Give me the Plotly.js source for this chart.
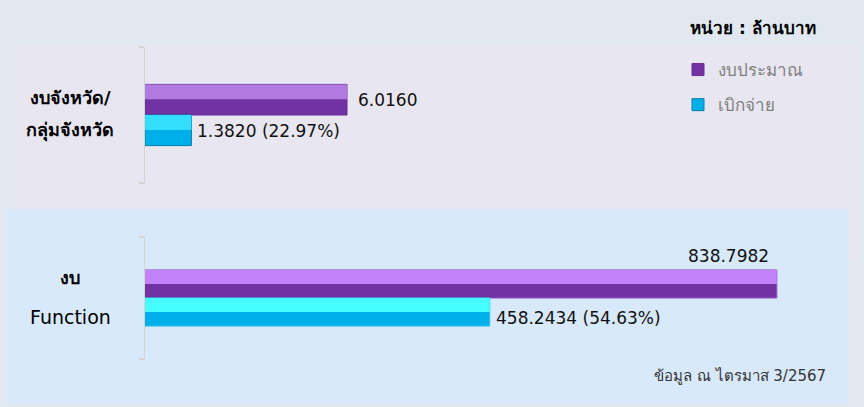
<!DOCTYPE html>
<html>
<head>
<meta charset="utf-8">
<script src="https://cdn.plot.ly/plotly-3.0.1.min.js"></script>
<style>
  html, body { margin: 0; padding: 0; background: #E1E8EF; }
  #chart { width: 864px; height: 407px; }
</style>
</head>
<body>
<div id="chart"></div>
<script>
// ---- data ----
const categoryLines = [['งบจังหวัด/', 'กลุ่มจังหวัด'], ['งบ', 'Function']];
const categories = categoryLines.map(l => l.join(' '));
const seriesNames = ['งบประมาณ', 'เบิกจ่าย'];
const budget = [6.0160, 838.7982];
const disbursed = [1.3820, 458.2434];
const unitText = 'หน่วย : ล้านบาท';
const noteText = 'ข้อมูล ณ ไตรมาส 3/2567';

// ---- style ----
const FONT = "Tahoma, 'DejaVu Sans', 'Noto Sans', sans-serif";
const W = 864, H = 407;
const px = v => v / W;
const py = v => 1 - v / H;

const purpleDark = '#7132A2', cyanDark = '#00AEEA';
const purpleLight = ['#B17AE0', '#C283F8'];
const cyanLight = ['#34DDFC', '#45FCFF'];
const outline = [['#6A2C98', '#0080A8'], ['#8F55C8', '#25C8F0']];

const axisSuffix = ['', '2'];
const barW = [0.225, 0.23];
const hiW = [0.11, 0.115];
const traces = [];

for (let i = 0; i < 2; i++) {
  const xa = 'x' + axisSuffix[i], ya = 'y' + axisSuffix[i];
  const cat = [categories[i]];
  // main bars
  traces.push({
    type: 'bar', orientation: 'h', name: seriesNames[0], x: [budget[i]], y: cat,
    xaxis: xa, yaxis: ya, offset: -barW[i], width: barW[i],
    marker: { color: purpleDark, line: { color: outline[i][0], width: 1 } },
    showlegend: i === 0, legendgroup: 'a', hoverinfo: 'skip'
  });
  traces.push({
    type: 'bar', orientation: 'h', name: seriesNames[1], x: [disbursed[i]], y: cat,
    xaxis: xa, yaxis: ya, offset: 0, width: barW[i],
    marker: { color: cyanDark, line: { color: outline[i][1], width: 1 } },
    showlegend: i === 0, legendgroup: 'b', hoverinfo: 'skip'
  });
  // highlight bands (bevel look)
  traces.push({
    type: 'bar', orientation: 'h', name: seriesNames[0], x: [budget[i]], y: cat,
    xaxis: xa, yaxis: ya, offset: -barW[i], width: hiW[i],
    marker: { color: purpleLight[i], line: { width: 0 } }, showlegend: false, hoverinfo: 'skip'
  });
  traces.push({
    type: 'bar', orientation: 'h', name: seriesNames[1], x: [disbursed[i]], y: cat,
    xaxis: xa, yaxis: ya, offset: 0, width: hiW[i],
    marker: { color: cyanLight[i], line: { width: 0 } }, showlegend: false, hoverinfo: 'skip'
  });
}

const hiddenX = (domain, range) => ({
  domain, range, visible: false, fixedrange: true
});
const bracketY = (domain) => ({
  domain, range: [0.5, -0.5], type: 'category',
  showline: true, linecolor: '#D4D4D4', linewidth: 1.5,
  ticks: 'outside', tickson: 'boundaries', ticklen: 5, tickcolor: '#D4D4D4', tickwidth: 1.5,
  showticklabels: false, showgrid: false, zeroline: false, fixedrange: true
});

const annotations = [];
// category labels
const labelY = [[97, 130], [277, 317]];
const labelBold = [[true, true], [true, false]];
const labelSize = [[18, 18], [18, 19]];
for (let i = 0; i < 2; i++) {
  categoryLines[i].forEach((t, j) => {
    annotations.push({
      xref: 'paper', yref: 'paper', x: px(70), y: py(labelY[i][j]),
      xanchor: 'center', yanchor: 'middle', showarrow: false,
      text: labelBold[i][j] ? '<b>' + t + '</b>' : t,
      font: { family: FONT, size: labelSize[i][j], color: '#000' }
    });
  });
}
// value labels
const fmt = v => v.toFixed(4);
const pct = i => (disbursed[i] / budget[i] * 100).toFixed(2) + '%';
const valFont = { family: FONT, size: 17, color: '#111' };
// top
annotations.push({ xref: 'x', yref: 'y', x: budget[0], y: -barW[0] / 2, xanchor: 'left', yanchor: 'middle',
  xshift: 9, showarrow: false, text: fmt(budget[0]), font: valFont });
annotations.push({ xref: 'x', yref: 'y', x: disbursed[0], y: barW[0] / 2, xanchor: 'left', yanchor: 'middle',
  xshift: 4, yshift: -1, showarrow: false, text: fmt(disbursed[0]) + ' (' + pct(0) + ')', font: valFont });
// bottom
annotations.push({ xref: 'x2', yref: 'y2', x: budget[1], y: -barW[1], xanchor: 'right', yanchor: 'bottom',
  xshift: -6, yshift: 2, showarrow: false, text: fmt(budget[1]), font: valFont });
annotations.push({ xref: 'x2', yref: 'y2', x: disbursed[1], y: barW[1] / 2, xanchor: 'left', yanchor: 'middle',
  xshift: 4, yshift: -6, showarrow: false, text: fmt(disbursed[1]) + ' (' + pct(1) + ')', font: valFont });
// unit & note
annotations.push({ xref: 'paper', yref: 'paper', x: px(818), y: py(28), xanchor: 'right', yanchor: 'middle',
  showarrow: false, text: '<b>' + unitText + '</b>', font: { family: FONT, size: 17, color: '#000' } });
annotations.push({ xref: 'paper', yref: 'paper', x: px(828), y: py(376), xanchor: 'right', yanchor: 'middle',
  showarrow: false, text: noteText, font: { family: FONT, size: 15, color: '#333' } });

const layout = {
  width: W, height: H,
  margin: { l: 0, r: 0, t: 0, b: 0 },
  paper_bgcolor: '#E1E8EF', plot_bgcolor: 'rgba(0,0,0,0)',
  barmode: 'overlay',
  font: { family: FONT },
  xaxis: hiddenX([px(145), px(816.5)], [0, 20]),
  yaxis: bracketY([py(183), py(47)]),
  xaxis2: hiddenX([px(144), px(823)], [0, 900]),
  yaxis2: bracketY([py(359), py(237)]),
  showlegend: true,
  legend: {
    x: px(678), y: py(52), xanchor: 'left', yanchor: 'top',
    bgcolor: 'rgba(0,0,0,0)', font: { family: FONT, size: 17, color: '#808080' },
    traceorder: 'grouped', tracegroupgap: 10, itemwidth: 30
  },
  shapes: [
    { type: 'rect', xref: 'paper', yref: 'paper', layer: 'below', x0: px(17), x1: px(858), y0: py(262), y1: py(46),
      fillcolor: '#E8E6F0', line: { width: 0 } },
    { type: 'rect', xref: 'paper', yref: 'paper', layer: 'below', x0: px(7), x1: px(848), y0: py(403), y1: py(209),
      fillcolor: '#D8E9FB', line: { width: 0 } }
  ],
  annotations
};

Plotly.newPlot('chart', traces, layout, { staticPlot: true, displayModeBar: false });
</script>
</body>
</html>
